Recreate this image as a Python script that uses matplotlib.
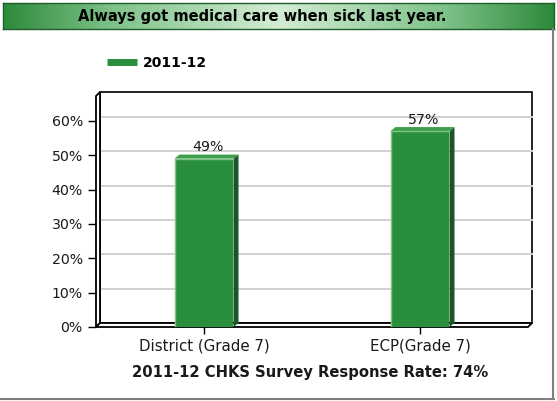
import numpy as np
import matplotlib.pyplot as plt
from matplotlib.patches import Polygon, Rectangle
from matplotlib.lines import Line2D
from matplotlib.colors import LinearSegmentedColormap
from matplotlib.transforms import IdentityTransform, ScaledTranslation

title = "Always got medical care when sick last year."
series_name = "2011-12"
categories = ["District (Grade 7)", "ECP(Grade 7)"]
values = [49, 57]
yticks = [0, 10, 20, 30, 40, 50, 60]
footer = "2011-12 CHKS Survey Response Rate: 74%"

W, H = 557, 401
plt.rcParams['font.family'] = ['DejaVu Sans']

green = '#2a8f3c'
green_side = '#1a5726'
green_top = '#3d9e4b'

fig = plt.figure(figsize=(W / 100, H / 100), dpi=100)


def fx(px):
    return px / W


def fy(py):
    return 1 - py / H


# front face of the plot box, in pixels
L, R, T, B = 96, 528, 96, 327
ytop = 67.2
ax = fig.add_axes([fx(L), fy(B), (R - L) / W, (B - T) / H])
ax.set_xlim(-0.5, 1.5)
ax.set_ylim(0, ytop)
ax.patch.set_visible(False)
for s in ax.spines.values():
    s.set_visible(False)

# 3d box: back wall, left wall, floor
wd = 4
off = ax.transData + ScaledTranslation(wd / 100, wd / 100, fig.dpi_scale_trans)


def disp(x, y, dx=0, dy=0):
    p = ax.transData.transform((x, y))
    return (p[0] + dx, p[1] + dy)


ax.add_patch(Rectangle((-0.5, 0), 2, ytop, transform=off, fc='white', ec='black',
                       lw=1.2, clip_on=False, zorder=0))
for v in yticks[1:]:
    ax.plot([-0.5, 1.5], [v, v], color='#d0d0d0', lw=1.4, transform=off,
            clip_on=False, zorder=0.5)
left_wall = [disp(-0.5, 0), disp(-0.5, ytop), disp(-0.5, ytop, wd, wd), disp(-0.5, 0, wd, wd)]
floor = [disp(-0.5, 0), disp(1.5, 0), disp(1.5, 0, wd, wd), disp(-0.5, 0, wd, wd)]
for poly in (left_wall, floor):
    ax.add_patch(Polygon(poly, closed=True, fc='white', ec='black', lw=1.3,
                         transform=IdentityTransform(), clip_on=False, zorder=1))

# bars
xs = np.arange(len(values)) * 1.0
bw = 0.273
ax.bar(xs, values, width=bw, color=green, zorder=3)
bd = (5, 4)
for x, v in zip(xs, values):
    x0, x1 = x - bw / 2, x + bw / 2
    side = [disp(x1, 0), disp(x1, v), disp(x1, v, *bd), disp(x1, 0, *bd)]
    top = [disp(x0, v), disp(x1, v), disp(x1, v, *bd), disp(x0, v, *bd)]
    ax.add_patch(Polygon(side, closed=True, fc=green_side, ec='none',
                         transform=IdentityTransform(), zorder=3))
    ax.add_patch(Polygon(top, closed=True, fc=green_top, ec='none',
                         transform=IdentityTransform(), zorder=3))
    ax.plot([x0, x0, x1], [0, v, v], color='#7cc486', lw=1, zorder=4)
    ax.annotate(f"{v}%", (x, v), xytext=(2.5, 3), textcoords='offset points',
                ha='center', va='bottom', fontsize=10.2, color='#1a1a1a')

ax.set_yticks(yticks)
ax.set_yticklabels([f"{v}%" for v in yticks])
ax.set_xticks(xs)
ax.set_xticklabels(categories)
ax.tick_params(axis='y', length=6, width=1, pad=3.5, labelsize=10.2, colors='black',
               labelcolor='#1a1a1a')
ax.tick_params(axis='x', length=5, width=1, pad=3, labelsize=10.8, colors='black',
               labelcolor='#1a1a1a')

# legend
fig.legend(handles=[Line2D([], [], color=green, lw=5, solid_capstyle='butt')],
           labels=[series_name],
           loc='center left', bbox_to_anchor=(fx(94), fy(63)), frameon=False,
           handlelength=2.2, handletextpad=0.4, prop={'weight': 'bold', 'size': 10})

# footer
fig.text(fx(310), fy(372), footer, ha='center', va='center', fontsize=10.6,
         fontweight='bold', color='#1a1a1a')

# title banner
axb = fig.add_axes([fx(3), fy(29), 551 / W, 26 / H])
cmap = LinearSegmentedColormap.from_list(
    'banner', [(0, '#2e8a3b'), (0.2, '#7fc38a'), (0.5, '#d3ecd4'), (0.8, '#7fc38a'), (1, '#2e8a3b')])
axb.imshow(np.linspace(0, 1, 256)[None, :], aspect='auto', cmap=cmap, extent=(0, 1, 0, 1))
axb.set_xticks([])
axb.set_yticks([])
for s in axb.spines.values():
    s.set_color('#1f5e29')
    s.set_linewidth(1)
fig.text(fx(262), fy(16), title, ha='center', va='center', fontsize=10.5,
         fontweight='bold', color='black')

# outer frame (right and bottom)
fig.add_artist(Line2D([fx(553), fx(553)], [fy(29), fy(399)], color='#808080', lw=1.5))
fig.add_artist(Line2D([0, fx(554)], [fy(399), fy(399)], color='#808080', lw=1.5))

fig.savefig('out.png', dpi=100)
